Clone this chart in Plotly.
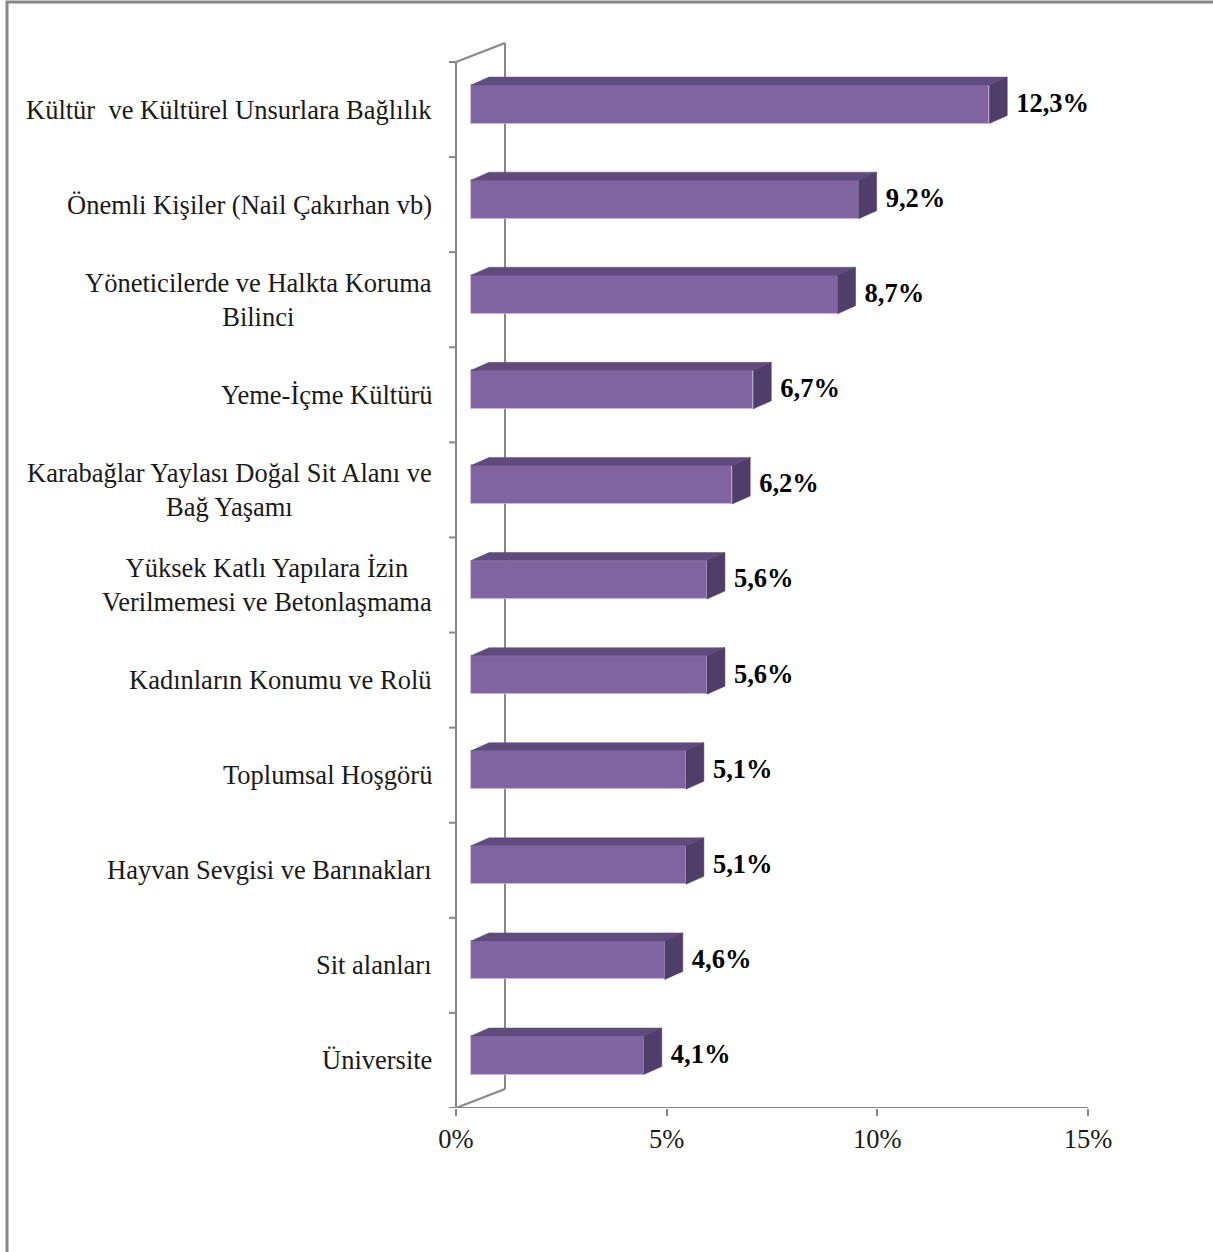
import plotly.graph_objects as go

# ---- data (top to bottom as shown) ----
categories = [
    "Kültür  ve Kültürel Unsurlara Bağlılık",
    "Önemli Kişiler (Nail Çakırhan vb)",
    "Yöneticilerde ve Halkta Koruma<br>Bilinci",
    "Yeme-İçme Kültürü",
    "Karabağlar Yaylası Doğal Sit Alanı ve<br>Bağ Yaşamı",
    "Yüksek Katlı Yapılara İzin<br>Verilmemesi ve Betonlaşmama",
    "Kadınların Konumu ve Rolü",
    "Toplumsal Hoşgörü",
    "Hayvan Sevgisi ve Barınakları",
    "Sit alanları",
    "Üniversite",
]
values = [12.3, 9.2, 8.7, 6.7, 6.2, 5.6, 5.6, 5.1, 5.1, 4.6, 4.1]
x_ticks = [0, 5, 10, 15]
x_tick_labels = ["0%", "5%", "10%", "15%"]

# ---- geometry / style ----
W, H = 1213, 1252
ML, MR, MT, MB = 443, 112, 30, 144
PW = W - ML - MR
PH = H - MT - MB
X0_PX = 456              # pixel of 0 %
PX_PER_PCT = (1088 - 456) / 15.0
xmin = -(X0_PX - ML) / PX_PER_PCT
xmax = xmin + PW / PX_PER_PCT
n = len(categories)
PX_PER_CAT = (1108 - 62) / n
ymin = -0.5
ymax = ymin + PH / PX_PER_CAT

def px2x(p):
    return p / PX_PER_PCT

def px2y(p):
    return p / PX_PER_CAT

bar_start = px2x(15)       # bars start slightly behind front wall
bar_dx = px2x(18)          # bar depth
bar_dy = px2y(8)
bar_h = px2y(38.5)
bar_c = px2y(5.2)
wall_dx = px2x(49)
wall_dy = px2y(19)

FRONT = "#8064A2"
TOP = "#604B7F"
SIDE = "#4F3E69"
GRID = "#878787"
TXT = "#1a1a1a"
FONT = "Liberation Serif"
FS = 26.5

ypos = [n - 1 - k for k in range(n)]

fig = go.Figure()

# front faces
fig.add_trace(go.Bar(
    y=[p + bar_c for p in ypos], x=values, base=[bar_start] * n,
    orientation="h", width=bar_h,
    marker=dict(color=FRONT, line=dict(color="#c9bddb", width=0.8)),
    hoverinfo="skip", showlegend=False,
))

# top and side faces
tx, ty = [], []
sx, sy = [], []
for p, v in zip(ypos, values):
    top = p + bar_c + bar_h / 2
    bot = p + bar_c - bar_h / 2
    x1 = bar_start + v
    tx += [bar_start, bar_start + bar_dx, x1 + bar_dx, x1, bar_start, None]
    ty += [top, top + bar_dy, top + bar_dy, top, top, None]
    sx += [x1, x1 + bar_dx, x1 + bar_dx, x1, x1, None]
    sy += [top, top + bar_dy, bot + bar_dy, bot, top, None]
fig.add_trace(go.Scatter(x=tx, y=ty, mode="lines", fill="toself", fillcolor=TOP,
                         line=dict(width=0.5, color=TOP), hoverinfo="skip", showlegend=False))
fig.add_trace(go.Scatter(x=sx, y=sy, mode="lines", fill="toself", fillcolor=SIDE,
                         line=dict(width=0.5, color=SIDE), hoverinfo="skip", showlegend=False))

# value labels
fig.add_trace(go.Scatter(
    x=[bar_start + v + bar_dx + px2x(9) for v in values],
    y=[p + bar_c - px2y(1) for p in ypos],
    mode="text", text=[f"{v:.1f}%".replace(".", ",") for v in values],
    textposition="middle right",
    textfont=dict(family=FONT, size=FS, color="#000000", weight="bold"),
    hoverinfo="skip", showlegend=False, cliponaxis=False,
))

shapes = []
def seg(x0, y0, x1, y1):
    shapes.append(dict(type="line", xref="x", yref="y", x0=x0, y0=y0, x1=x1, y1=y1,
                       line=dict(color=GRID, width=2), layer="below"))

top_y = ymin + n
seg(0, ymin, 0, top_y)                                   # front wall edge
seg(0, top_y, wall_dx, top_y + wall_dy)                  # top depth edge
seg(wall_dx, ymin + wall_dy, wall_dx, top_y + wall_dy)   # back wall edge
seg(0, ymin, wall_dx, ymin + wall_dy)                    # bottom depth edge
seg(-px2x(7), ymin, 15, ymin)                            # x axis line
for k in range(n + 1):
    seg(-px2x(7), ymin + k, 0, ymin + k)                 # category tick marks

# outer frame
def pxx(p):
    return (p - ML) / PW
def pxy(p):
    return (H - MB - p) / PH
shapes.append(dict(type="rect", xref="paper", yref="paper",
                   x0=pxx(7), x1=pxx(1300), y0=pxy(1300), y1=pxy(2),
                   line=dict(color=GRID, width=3), fillcolor="rgba(0,0,0,0)", layer="below"))

annotations = []
for p, lab in zip(ypos, categories):
    annotations.append(dict(
        xref="paper", yref="y", x=pxx(434), y=p, xanchor="right", yanchor="middle",
        text=lab, showarrow=False, align="center",
        font=dict(family=FONT, size=FS, color=TXT),
    ))

fig.update_layout(
    width=W, height=H,
    margin=dict(l=ML, r=MR, t=MT, b=MB, pad=0),
    paper_bgcolor="white", plot_bgcolor="white",
    shapes=shapes, annotations=annotations,
    xaxis=dict(range=[xmin, xmax], tickvals=x_ticks, ticktext=x_tick_labels,
               showgrid=False, zeroline=False, showline=False,
               ticks="outside", ticklen=7, tickwidth=2, tickcolor=GRID,
               tickfont=dict(family=FONT, size=FS, color=TXT), fixedrange=True),
    yaxis=dict(range=[ymin, ymax], showticklabels=False, showgrid=False,
               zeroline=False, showline=False, ticks="", fixedrange=True),
    bargap=0, showlegend=False,
)

fig.write_html("out.html", config={"displayModeBar": False},
               post_script="document.body.style.margin='0';")
